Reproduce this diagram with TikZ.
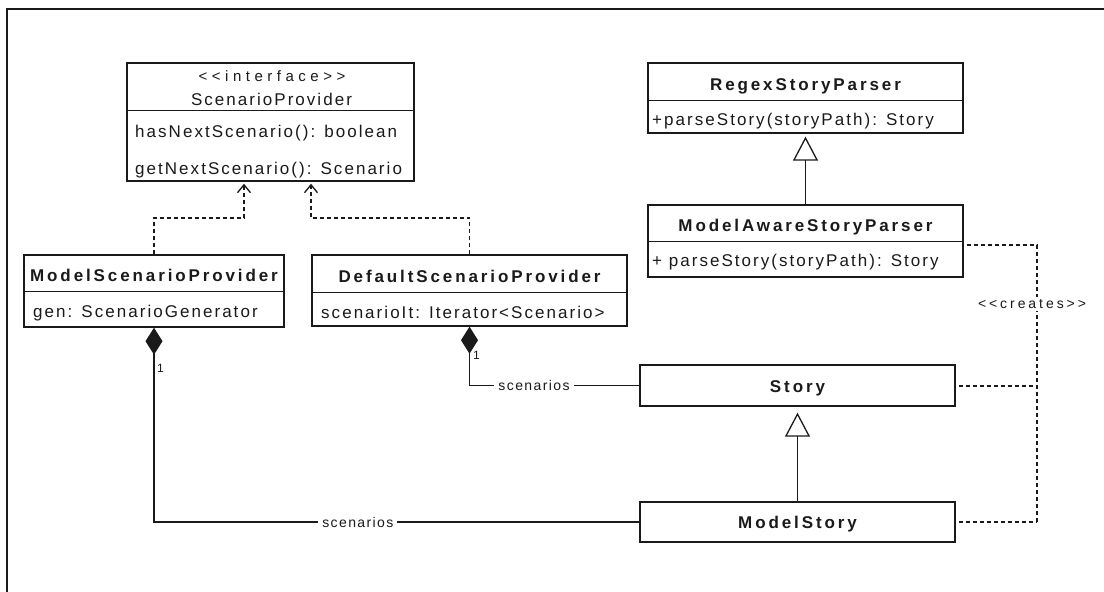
\documentclass[tikz,border=0pt]{standalone}
\usepackage{fontspec}
\setmainfont{Liberation Sans}
\newfontfamily\bodyfont{Liberation Sans}[LetterSpace=12,Ligatures=TeXOff]
\newfontfamily\namefont{Liberation Sans}[LetterSpace=17,Ligatures=TeXOff]
\newfontfamily\rolefont{Liberation Sans}[LetterSpace=10,Ligatures=TeXOff]
\newfontfamily\ifacefont{Liberation Sans}[LetterSpace=30,Ligatures=TeXOff]
\newfontfamily\createsfont{Liberation Sans}[LetterSpace=21,Ligatures=TeXOff]
\usetikzlibrary{arrows.meta,calc}
\definecolor{ink}{HTML}{1A1A1A}

\tikzset{
  frame/.style={draw=ink, line width=1.5pt},
  cls/.style={draw=ink, line width=1.4pt, rectangle, inner sep=0pt, fill=white},
  divider/.style={draw=ink, line width=1.2pt},
  clsname/.style={font=\namefont\bfseries\fontsize{17}{20}\selectfont, text=ink, anchor=base, inner sep=0pt},
  member/.style={font=\bodyfont\fontsize{17}{20}\selectfont, text=ink, anchor=base west, inner sep=0pt},
  iface/.style={font=\ifacefont\fontsize{15}{18}\selectfont, text=ink, anchor=base, inner sep=0pt},
  role/.style={font=\rolefont\fontsize{14}{16}\selectfont, text=ink, fill=white, inner xsep=4pt, inner ysep=2pt},
  mult/.style={font=\rolefont\fontsize{12}{14}\selectfont, text=ink, anchor=base west, inner sep=0pt},
  crlabel/.style={font=\createsfont\fontsize{14}{16}\selectfont, text=ink, fill=white, inner xsep=1pt, inner ysep=2pt},
  dep/.style={draw=ink, line width=1.3pt, dash pattern=on 4pt off 3pt,
    -{Straight Barb[length=8pt,width=13pt,line width=1.3pt]}, shorten >=2pt},
  comp/.style={draw=ink, line width=1.3pt, -{Diamond[length=27pt,width=17pt]}},
  inh/.style={draw=ink, line width=1.3pt, -{Triangle[open,length=24pt,width=25pt,line width=1.3pt]}},
  creates/.style={draw=ink, line width=1.3pt, dash pattern=on 4pt off 3pt},
}

\begin{document}
\begin{tikzpicture}[x=1pt,y=-1pt]
\useasboundingbox (0,0) rectangle (1104,592);

% outer frame
\draw[frame] (7,592) -- (7,9) -- (1104,9);

% ScenarioProvider interface
\node[cls, minimum width=287pt, minimum height=118pt] (sp) at (270.5,122) {};
\draw[divider] ($(sp.north west)+(0,48)$) -- ($(sp.north east)+(0,48)$);
\node[iface] (spst) at (272,81.5) {<<interface>>};
\node[font=\bodyfont\fontsize{17}{20}\selectfont, text=ink, anchor=base, inner sep=0pt] (spnm) at (271.5,105) {ScenarioProvider};
\node[member] (spm1) at (135,137.5) {hasNextScenario(): boolean};
\node[member] (spm2) at (135,174) {getNextScenario(): Scenario};

% ModelScenarioProvider
\node[cls, minimum width=260pt, minimum height=72pt] (msp) at (154,291) {};
\draw[divider] ($(msp.north west)+(0,37)$) -- ($(msp.north east)+(0,37)$);
\node[clsname] (mspnm) at (154,281.5) {ModelScenarioProvider};
\node[member] (mspa) at (33,317.5) {gen: ScenarioGenerator};

% DefaultScenarioProvider
\node[cls, minimum width=315pt, minimum height=71pt] (dsp) at (469.5,290.5) {};
\draw[divider] ($(dsp.north west)+(0,38)$) -- ($(dsp.north east)+(0,38)$);
\node[clsname] (dspnm) at (469.5,282.5) {DefaultScenarioProvider};
\node[member] (dspa) at (321,318) {scenarioIt: Iterator<Scenario>};

% RegexStoryParser
\node[cls, minimum width=315pt, minimum height=70pt] (rsp) at (805.5,98) {};
\draw[divider] ($(rsp.north west)+(0,38)$) -- ($(rsp.north east)+(0,38)$);
\node[clsname] (rspnm) at (805.5,90) {RegexStoryParser};
\node[member] (rspm) at (652,125) {+parseStory(storyPath): Story};

% ModelAwareStoryParser
\node[cls, minimum width=315pt, minimum height=72pt] (masp) at (805.5,241) {};
\draw[divider] ($(masp.north west)+(0,37)$) -- ($(masp.north east)+(0,37)$);
\node[clsname] (maspnm) at (805.5,231) {ModelAwareStoryParser};
\node[member] (maspm) at (652,266) {+ parseStory(storyPath): Story};

% Story
\node[cls, minimum width=315pt, minimum height=41pt] (story) at (797.5,385.5) {};
\node[clsname] (storynm) at (797.5,392.5) {Story};

% ModelStory
\node[cls, minimum width=315pt, minimum height=40pt] (msg) at (797.5,522) {};
\node[clsname] (msgnm) at (797.5,528) {ModelStory};

% realisations of the interface
\coordinate (busY) at (0,218);
\draw[dep] (msp.north) -- (msp.north |- busY) -| ([xshift=-26.5pt]sp.south);
\draw[dep] (dsp.north) -- (dsp.north |- busY) -| ([xshift=40.5pt]sp.south);

% compositions
\draw[comp] (msg.west) -| (msp.south) node[role, pos=0.29] (r1) {scenarios};
\draw[comp] (story.west) -| (dsp.south) node[role, pos=0.31] (r2) {scenarios};
\node[mult] (m1) at (157,372) {1};
\node[mult] (m2) at (473,359) {1};

% generalisations
\draw[inh, shorten >=3pt] (masp.north) -- (rsp.south);
\draw[inh, shorten >=6pt] (msg.north) -- (story.south);

% the parser creates stories
\coordinate (crx) at (1037,0);
\coordinate (se) at ([yshift=-0.5pt]story.east);
\draw[creates, shorten <=3pt] ([yshift=-4pt]masp.east) -| (crx |- msg.east);
\draw[creates, shorten <=3pt] (se) -- (se -| crx);
\draw[creates, shorten <=3pt] (msg.east) -- (crx |- msg.east);
\node[crlabel] (crl) at (1032,304) {<<creates>>};
\end{tikzpicture}
\end{document}
